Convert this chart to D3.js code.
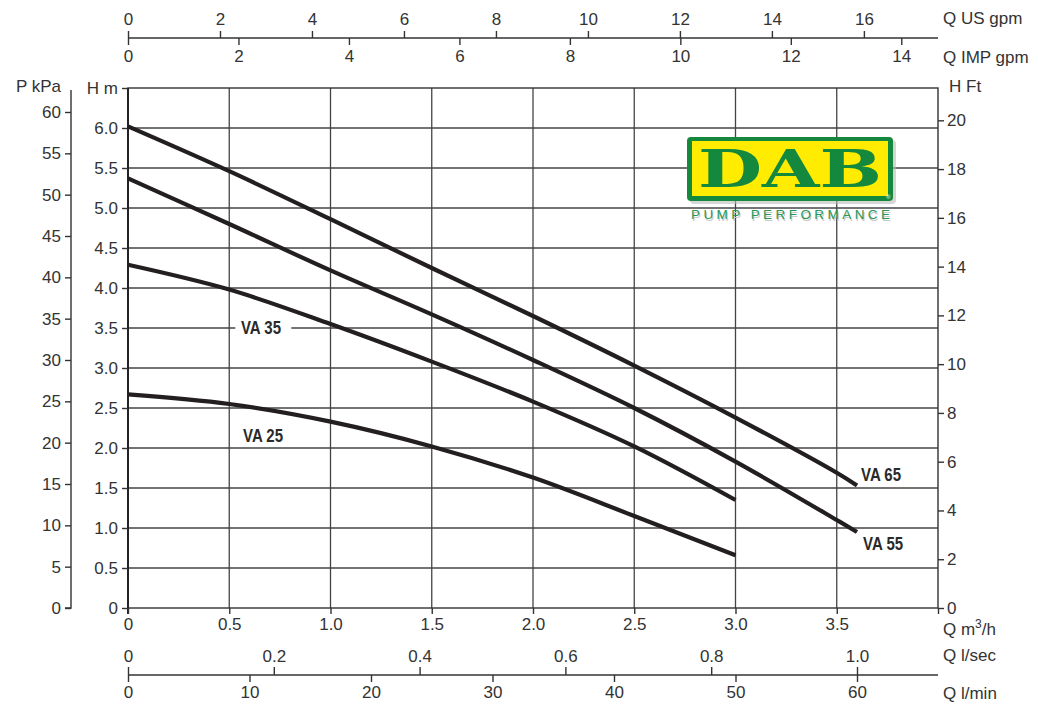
<!DOCTYPE html>
<html>
<head>
<meta charset="utf-8">
<title>DAB VA pump performance</title>
<style>
body {
  margin: 0;
  padding: 0;
  background: #fff;
}
svg text {
  font-family: "Liberation Sans", Arial, sans-serif;
  fill: #333;
}
.tick text { font-size: 17px; }
.axis-title { font-size: 17px; }
.curve-label {
  font-family: "Liberation Sans", Arial, sans-serif;
  font-weight: bold;
  font-size: 18px;
  fill: #2a2a2a !important;
}
</style>
<script src="https://d3js.org/d3.v7.min.js"></script>
</head>
<body>
<svg id="chart" width="1038" height="704"></svg>

<script>
// flow in m3/h, head in m
const qLong = [0, 0.5, 1.0, 1.5, 2.0, 2.5, 3.0, 3.5, 3.6];
const qShort = [0, 0.5, 1.0, 1.5, 2.0, 2.5, 3.0];
const headVA65 = [6.02, 5.46, 4.86, 4.25, 3.65, 3.03, 2.38, 1.69, 1.53];
const headVA55 = [5.37, 4.80, 4.22, 3.67, 3.10, 2.50, 1.83, 1.10, 0.95];
const headVA35 = [4.29, 3.98, 3.55, 3.08, 2.58, 2.02, 1.35];
const headVA25 = [2.67, 2.55, 2.33, 2.02, 1.63, 1.15, 0.66];

// tick values for every axis
const m3hTicks = [0, 0.5, 1.0, 1.5, 2.0, 2.5, 3.0, 3.5, 4.0];
const lsecTicks = [0, 0.2, 0.4, 0.6, 0.8, 1.0];
const lminTicks = [0, 10, 20, 30, 40, 50, 60];
const usTicks = [0, 2, 4, 6, 8, 10, 12, 14, 16];
const impTicks = [0, 2, 4, 6, 8, 10, 12, 14];
const hmTicks = [0, 0.5, 1.0, 1.5, 2.0, 2.5, 3.0, 3.5, 4.0, 4.5, 5.0, 5.5, 6.0, 6.5];
const kpaTicks = [0, 5, 10, 15, 20, 25, 30, 35, 40, 45, 50, 55, 60];
const ftTicks = [0, 2, 4, 6, 8, 10, 12, 14, 16, 18, 20];

const curves = [
  { name: "VA 65", q: qLong, h: headVA65 },
  { name: "VA 55", q: qLong, h: headVA55 },
  { name: "VA 35", q: qShort, h: headVA35 },
  { name: "VA 25", q: qShort, h: headVA25 }
];

const svg = d3.select("#chart");
const plotL = 128, plotR = 938, plotT = 88, plotB = 608;

const x = d3.scaleLinear().domain([0, 4]).range([plotL, plotR]);
const y = d3.scaleLinear().domain([0, 6.5]).range([plotB, plotT]);
const yKpa = d3.scaleLinear().domain([0, 60]).range([plotB, 112]);
const yFt = d3.scaleLinear().domain([0, 6.5 / 0.3048]).range([plotB, plotT]);
const xUs = d3.scaleLinear().domain([0, 4 * 4.40287]).range([plotL, plotR]);
const xImp = d3.scaleLinear().domain([0, 4 * 3.66615]).range([plotL, plotR]);
const xLsec = d3.scaleLinear().domain([0, 4 / 3.6]).range([plotL, plotR]);
const xLmin = d3.scaleLinear().domain([0, 4000 / 60]).range([plotL, plotR]);

const dec = d => d === 0 ? "0" : d3.format(".1f")(d);

function styleAxis(g) {
  g.selectAll("path.domain").attr("stroke", "#333").attr("stroke-width", 1.4);
  g.selectAll(".tick line").attr("stroke", "#333").attr("stroke-width", 1.4);
  g.selectAll(".tick text").attr("fill", "#333");
}

// grid
const grid = svg.append("g");
grid.selectAll("line.v")
  .data(m3hTicks.slice(1, -1))
  .enter().append("line")
  .attr("x1", d => x(d)).attr("x2", d => x(d))
  .attr("y1", plotT).attr("y2", plotB)
  .attr("stroke", "#444").attr("stroke-width", 1.3);
grid.selectAll("line.h")
  .data(hmTicks.slice(1, -1))
  .enter().append("line")
  .attr("x1", plotL).attr("x2", plotR)
  .attr("y1", d => y(d)).attr("y2", d => y(d))
  .attr("stroke", "#444").attr("stroke-width", 1.3);

// frame
svg.append("rect")
  .attr("x", plotL).attr("y", plotT)
  .attr("width", plotR - plotL).attr("height", plotB - plotT)
  .attr("fill", "none").attr("stroke", "#333").attr("stroke-width", 1.4);
svg.append("line")
  .attr("x1", plotL).attr("x2", plotL).attr("y1", plotT).attr("y2", plotB + 6)
  .attr("stroke", "#222").attr("stroke-width", 2);

// H m (left, inner)
svg.append("g")
  .attr("transform", `translate(${plotL},0)`)
  .call(d3.axisLeft(y).tickValues(hmTicks).tickSizeOuter(0).tickPadding(4)
    .tickFormat(d => d === 6.5 ? "H m" : dec(d)))
  .call(styleAxis)
  .call(g => g.select("path.domain").remove());

// P kPa (left, outer)
svg.append("g")
  .attr("transform", "translate(71,0)")
  .call(d3.axisLeft(yKpa).tickValues(kpaTicks).tickSizeOuter(0).tickPadding(4))
  .call(styleAxis)
  .call(g => g.select("path.domain").attr("d", `M-6,${plotB}H0V${plotT + 2}`));
svg.append("text").attr("class", "axis-title")
  .attr("x", 61).attr("y", 92).attr("text-anchor", "end").text("P kPa");

// H Ft (right)
svg.append("g")
  .attr("transform", `translate(${plotR},0)`)
  .call(d3.axisRight(yFt).tickValues(ftTicks).tickSizeOuter(0).tickPadding(3))
  .call(styleAxis)
  .call(g => g.select("path.domain").remove());
svg.append("text").attr("class", "axis-title")
  .attr("x", 949).attr("y", 92).text("H Ft");

// top: US gpm / IMP gpm
const topAxisY = 38;
svg.append("g")
  .attr("transform", `translate(0,${topAxisY})`)
  .call(d3.axisTop(xUs).tickValues(usTicks).tickSize(7).tickSizeOuter(0).tickPadding(6))
  .call(styleAxis)
  .call(g => g.select("path.domain").attr("d", `M${plotL},0H${plotR}`));
svg.append("g")
  .attr("transform", `translate(0,${topAxisY})`)
  .call(d3.axisBottom(xImp).tickValues(impTicks).tickSize(7).tickSizeOuter(0).tickPadding(5))
  .call(styleAxis)
  .call(g => g.select("path.domain").remove());
svg.append("text").attr("class", "axis-title").attr("x", 943).attr("y", 24).text("Q US gpm");
svg.append("text").attr("class", "axis-title").attr("x", 943).attr("y", 63).text("Q IMP gpm");

// bottom: m3/h
svg.append("g")
  .attr("transform", `translate(0,${plotB})`)
  .call(d3.axisBottom(x).tickValues(m3hTicks).tickSize(6).tickSizeOuter(0).tickPadding(4)
    .tickFormat(d => d === 4 ? "" : dec(d)))
  .call(styleAxis)
  .call(g => g.select("path.domain").remove());
const m3h = svg.append("text").attr("class", "axis-title").attr("x", 943).attr("y", 635);
m3h.append("tspan").text("Q m");
m3h.append("tspan").attr("dy", -7).attr("font-size", 12).text("3");
m3h.append("tspan").attr("dy", 7).text("/h");

// bottom: l/sec and l/min
const lowAxisY = 675;
svg.append("g")
  .attr("transform", `translate(0,${lowAxisY})`)
  .call(d3.axisTop(xLsec).tickValues(lsecTicks).tickSize(8).tickSizeOuter(0).tickPadding(5)
    .tickFormat(d => d === 0 ? "0" : d3.format(".1f")(d)))
  .call(styleAxis)
  .call(g => g.select("path.domain").attr("d", `M${plotL},0H${plotR}`));
svg.append("g")
  .attr("transform", `translate(0,${lowAxisY})`)
  .call(d3.axisBottom(xLmin).tickValues(lminTicks).tickSize(7).tickSizeOuter(0).tickPadding(4))
  .call(styleAxis)
  .call(g => g.select("path.domain").remove());
svg.append("text").attr("class", "axis-title").attr("x", 943).attr("y", 661).text("Q l/sec");
svg.append("text").attr("class", "axis-title").attr("x", 943).attr("y", 699).text("Q l/min");

// logo
const logo = svg.append("g");
logo.append("rect")
  .attr("x", 690).attr("y", 140).attr("width", 206).attr("height", 64).attr("rx", 4)
  .attr("fill", "#bbb").attr("opacity", 0.6);
logo.append("rect")
  .attr("x", 687).attr("y", 137).attr("width", 206).attr("height", 64).attr("rx", 4)
  .attr("fill", "#14883c");
logo.append("rect")
  .attr("x", 692).attr("y", 141).attr("width", 196).attr("height", 55)
  .attr("fill", "#ffec00");
logo.append("text")
  .attr("x", 698).attr("y", 187)
  .attr("textLength", 184).attr("lengthAdjust", "spacingAndGlyphs")
  .style("font-family", "'DejaVu Serif', serif").style("font-weight", "bold")
  .style("font-size", "53px").style("fill", "#14883c")
  .text("DAB");
logo.append("text")
  .attr("x", 886).attr("y", 199)
  .style("font-size", "6px").style("fill", "#fff").text("®");
logo.append("text")
  .attr("x", 691).attr("y", 219)
  .attr("textLength", 199).attr("lengthAdjust", "spacing")
  .style("font-size", "13.5px").style("fill", "#c8c8c8")
  .attr("transform", "translate(1,1.5)")
  .text("PUMP PERFORMANCE");
logo.append("text")
  .attr("x", 691).attr("y", 219)
  .attr("textLength", 199).attr("lengthAdjust", "spacing")
  .style("font-size", "13.5px").style("fill", "#2a9850")
  .text("PUMP PERFORMANCE");

// curves
const line = d3.line()
  .x(d => x(d[0]))
  .y(d => y(d[1]))
  .curve(d3.curveCatmullRom.alpha(0.5));

svg.append("g").selectAll("path")
  .data(curves)
  .enter().append("path")
  .attr("d", c => line(c.q.map((q, i) => [q, c.h[i]])))
  .attr("fill", "none")
  .attr("stroke", "#231f20")
  .attr("stroke-width", 4.2);

// curve labels
svg.append("rect")
  .attr("x", x(0.53)).attr("y", y(3.5) - 10).attr("width", 56).attr("height", 20)
  .attr("fill", "#fff");
const labelPos = [
  { name: "VA 65", q: 3.62, h: 1.67 },
  { name: "VA 55", q: 3.63, h: 0.81 },
  { name: "VA 35", q: 0.558, h: 3.5 },
  { name: "VA 25", q: 0.568, h: 2.15 }
];
svg.append("g").selectAll("text")
  .data(labelPos)
  .enter().append("text")
  .attr("class", "curve-label")
  .attr("x", d => x(d.q))
  .attr("y", d => y(d.h))
  .attr("dy", "0.35em")
  .attr("textLength", 40)
  .attr("lengthAdjust", "spacingAndGlyphs")
  .text(d => d.name);
</script>
</body>
</html>
